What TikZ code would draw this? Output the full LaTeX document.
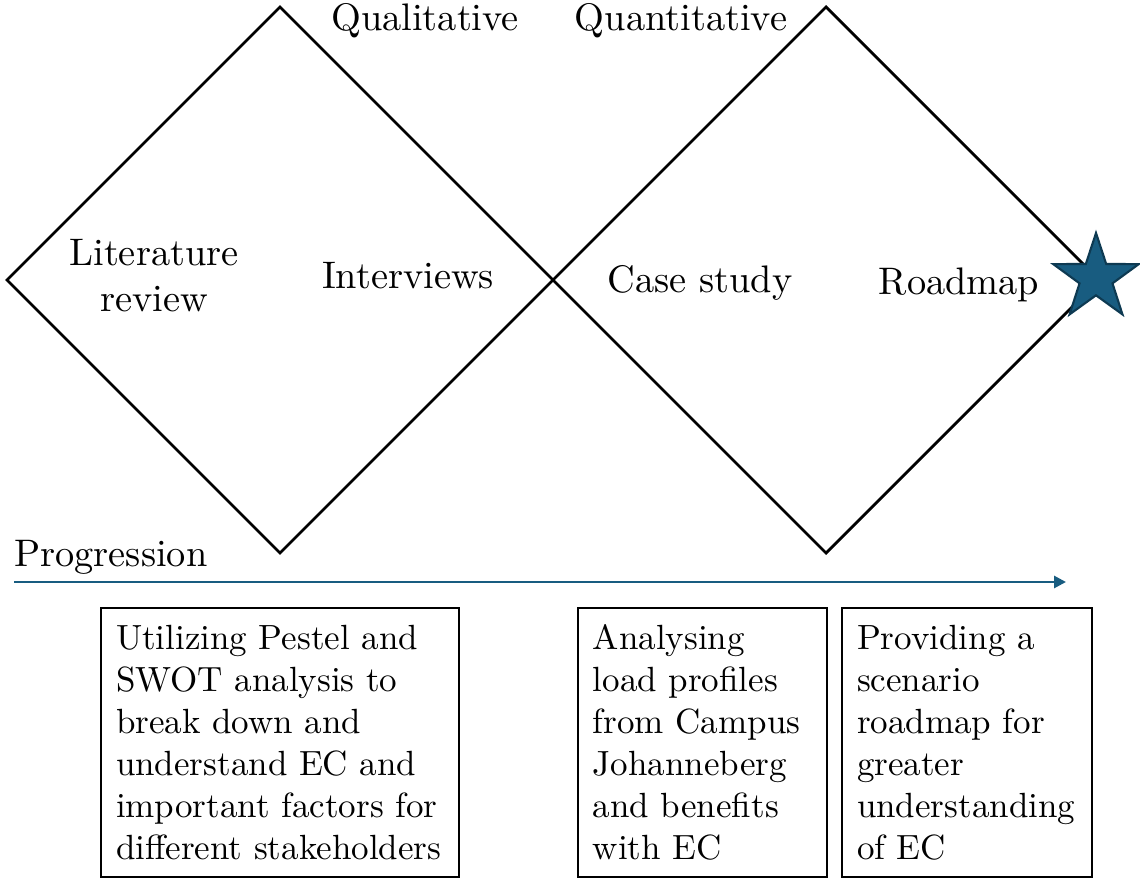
\documentclass[tikz,border=0pt]{standalone}
\usetikzlibrary{positioning, arrows.meta, shapes.geometric}

\definecolor{progblue}{RGB}{24,92,128}
\definecolor{stardark}{RGB}{14,58,82}

% 10pt design size, scaled up
\font\boxrm="[lmroman10-regular]:mapping=tex-text" at 24.9pt
\font\lblrm="[lmroman10-regular]:mapping=tex-text" at 27.3pt

\begin{document}
\begin{tikzpicture}[
  > = {Triangle[length=3mm, width=3mm]},
  phase/.style={diamond, draw, line width=2pt, minimum size=13.65cm,
                inner sep=0pt, outer sep=0pt},
  lbl/.style={font={\fontsize{27.3}{32.7}\selectfont\lblrm}, align=center,
              inner sep=0pt},
  infobox/.style={draw, line width=2pt, align=left, inner xsep=0.375cm,
                  minimum height=6.725cm,
                  font={\fontsize{24.9}{29.9}\selectfont\boxrm}},
  arr/.style={->, line width=2pt, color=progblue}
]
  \useasboundingbox (0,0) rectangle (28.5,-21.975);

  % the two diamonds
  \node[phase] (qual) at (7.0, -7.0)   {};
  \node[phase] (quan) at (20.65, -7.0) {};

  \node[lbl, anchor=base] (qualt) at (10.625, -0.775) {Qualitative};
  \node[lbl, anchor=base] (quant) at (17.025, -0.775) {Quantitative};

  \node[lbl] (lit) at (3.85, -6.9)    {Literature\\review};
  \node[lbl, anchor=base] (intv) at (10.2, -7.2)  {Interviews};
  \node[lbl, anchor=base] (case) at (17.5, -7.3)  {Case study};
  \node[lbl, anchor=base] (road) at (23.975, -7.35) {Roadmap};

  \node[star, star points=5, star point ratio=2.6, minimum size=2.25cm,
        inner sep=0pt, fill=progblue, draw=stardark, line width=1.5pt]
    (goal) at (27.4, -6.95) {};

  % progression
  \coordinate (pstart) at (0.35, -14.55);
  \coordinate (pend)   at (26.65, -14.55);
  \draw[arr] (pstart) -- (pend);
  \node[lbl, anchor=base west] (prog) at (0.35, -14.15) {Progression};

  % descriptions
  \node[infobox, text width=8.2cm] (pestel) at (7.0, -18.56)
    {Utilizing Pestel and\\SWOT analysis to\\break down and\\understand EC and\\important factors for\\different stakeholders};
  \node[infobox, text width=5.475cm] (load) at (17.56, -18.56)
    {Analysing\\load profiles\\from Campus\\Johanneberg\\and benefits\\with EC};
  \node[infobox, text width=5.5cm] (scen) at (24.175, -18.56)
    {Providing a\\scenario\\roadmap for\\greater\\understanding\\of EC};
\end{tikzpicture}
\end{document}
